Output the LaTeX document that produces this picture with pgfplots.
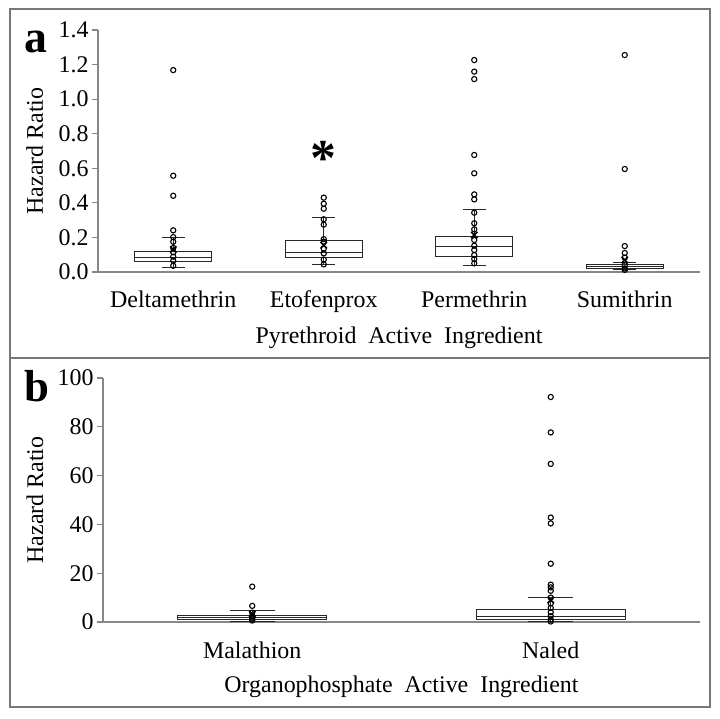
\documentclass[border=0pt]{standalone}
\usepackage{fontspec}
\setmainfont{Liberation Serif}
\usepackage{pgfplots}
\pgfplotsset{compat=1.18}
\usepgfplotslibrary{statistics}
\definecolor{axgray}{RGB}{135,135,135}
\definecolor{framegray}{RGB}{120,120,120}
\definecolor{boxc}{RGB}{40,40,40}
\pgfplotsset{
  mystyle/.style={
    scale only axis,
    anchor=south west,
    clip=false,
    axis x line=bottom,
    axis y line=left,
    axis line style={-, draw=axgray, line width=1.1bp},
    tick align=outside,
    major tick length=6bp,
    ytick style={draw=axgray, line width=1.1bp},
    xtick style={draw=none},
    tick label style={font=\fontsize{24}{28}\selectfont},
    label style={font=\fontsize{24}{28}\selectfont},
    /pgf/number format/assume math mode=true,
    xticklabel style={anchor=base, yshift=-30bp},
    boxplot/draw direction=y,
  },
  pts/.style={only marks, mark=o, mark size=2.6bp, mark options={line width=1.1bp, black}},
  meanm/.style={only marks, mark=x, mark size=4.5bp, mark options={line width=1.6bp, black}},
}
\begin{document}
\begin{tikzpicture}
\useasboundingbox (0bp,0bp) rectangle (720bp,719bp);
\draw[framegray, line width=1.3bp] (10bp,361bp) rectangle (710bp,710bp);
\draw[framegray, line width=1.3bp] (10bp,12bp) rectangle (710bp,361bp);
\node[anchor=base west, inner sep=0pt, font=\fontsize{46}{46}\selectfont\bfseries] at (24bp,666bp) {a};
\node[anchor=base west, inner sep=0pt, font=\fontsize{45}{45}\selectfont\bfseries] at (24bp,317bp) {b};

% ---------- Panel a ----------
\begin{axis}[mystyle,
  at={(98bp,447bp)}, width=602bp, height=242bp,
  xmin=-0.5, xmax=3.5, ymin=0, ymax=1.4,
  xtick={0,1,2,3},
  xticklabels={Deltamethrin,Etofenprox,Permethrin,Sumithrin},
  ytick={0,0.2,0.4,0.6,0.8,1.0,1.2,1.4},
  yticklabel style={/pgf/number format/.cd, fixed, fixed zerofill, precision=1},
  xlabel={Pyrethroid\ \ Active\ \ Ingredient},
  ylabel={Hazard Ratio},
  xlabel style={at={(axis description cs:0.5,0)}, anchor=base, yshift=-72bp},
  ylabel style={at={(axis description cs:-0.105,0.5)}, anchor=center},
  boxplot/box extend=0.51, boxplot/whisker extend=0.15,
]
\addplot[draw=boxc, line width=0.9bp, boxplot prepared={draw position=0, lower whisker=0.025, lower quartile=0.060, median=0.087, upper quartile=0.121, upper whisker=0.202}] coordinates {};
\addplot[draw=boxc, line width=0.9bp, boxplot prepared={draw position=1, lower whisker=0.044, lower quartile=0.083, median=0.112, upper quartile=0.181, upper whisker=0.318}] coordinates {};
\addplot[draw=boxc, line width=0.9bp, boxplot prepared={draw position=2, lower whisker=0.037, lower quartile=0.091, median=0.150, upper quartile=0.206, upper whisker=0.360}] coordinates {};
\addplot[draw=boxc, line width=0.9bp, boxplot prepared={draw position=3, lower whisker=0.012, lower quartile=0.021, median=0.030, upper quartile=0.044, upper whisker=0.056}] coordinates {};
\addplot[pts] coordinates {
 (0,1.168) (0,0.557) (0,0.441) (0,0.241) (0,0.202) (0,0.175) (0,0.139) (0,0.114) (0,0.089) (0,0.065) (0,0.036)
 (1,0.430) (1,0.395) (1,0.366) (1,0.305) (1,0.274) (1,0.190) (1,0.175) (1,0.135) (1,0.108) (1,0.072) (1,0.044)
 (2,1.226) (2,1.159) (2,1.116) (2,0.677) (2,0.571) (2,0.449) (2,0.420) (2,0.343) (2,0.282) (2,0.247) (2,0.185) (2,0.152) (2,0.127) (2,0.098) (2,0.075) (2,0.050)
 (3,1.255) (3,0.596) (3,0.150) (3,0.110) (3,0.083) (3,0.040) (3,0.021) (3,0.012)
};
\addplot[meanm] coordinates {(0,0.130) (1,0.155) (2,0.214) (3,0.069)};
\node[anchor=base, inner sep=0pt, font=\fontsize{52}{52}\selectfont\bfseries] at (axis cs:1,0.561) {*};
\end{axis}

% ---------- Panel b ----------
\begin{axis}[mystyle,
  at={(103bp,97bp)}, width=597bp, height=244bp,
  xmin=-0.5, xmax=1.5, ymin=0, ymax=100,
  xtick={0,1},
  xticklabels={Malathion,Naled},
  ytick={0,20,40,60,80,100},
  xlabel={Organophosphate\ \ Active\ \ Ingredient},
  ylabel={Hazard Ratio},
  xlabel style={at={(axis description cs:0.5,0)}, anchor=base, yshift=-70bp},
  ylabel style={at={(axis description cs:-0.114,0.5)}, anchor=center},
  boxplot/box extend=0.5, boxplot/whisker extend=0.15,
]
\addplot[draw=boxc, line width=0.9bp, boxplot prepared={draw position=0, lower whisker=0.3, lower quartile=1.1, median=1.7, upper quartile=2.6, upper whisker=4.9}] coordinates {};
\addplot[draw=boxc, line width=0.9bp, boxplot prepared={draw position=1, lower whisker=0.2, lower quartile=1.1, median=2.3, upper quartile=5.0, upper whisker=10.0}] coordinates {};
\addplot[pts] coordinates {
 (0,14.5) (0,6.6) (0,3.8) (0,2.4) (0,1.4) (0,0.6)
 (1,92.2) (1,77.7) (1,64.8) (1,42.8) (1,40.4) (1,23.9) (1,15.3) (1,14.2) (1,12.8) (1,10.0) (1,7.6) (1,5.8) (1,4.0) (1,2.4) (1,1.0) (1,0.2)
};
\addplot[meanm] coordinates {(0,3.3) (1,9.0)};
\end{axis}
\end{tikzpicture}
\end{document}
